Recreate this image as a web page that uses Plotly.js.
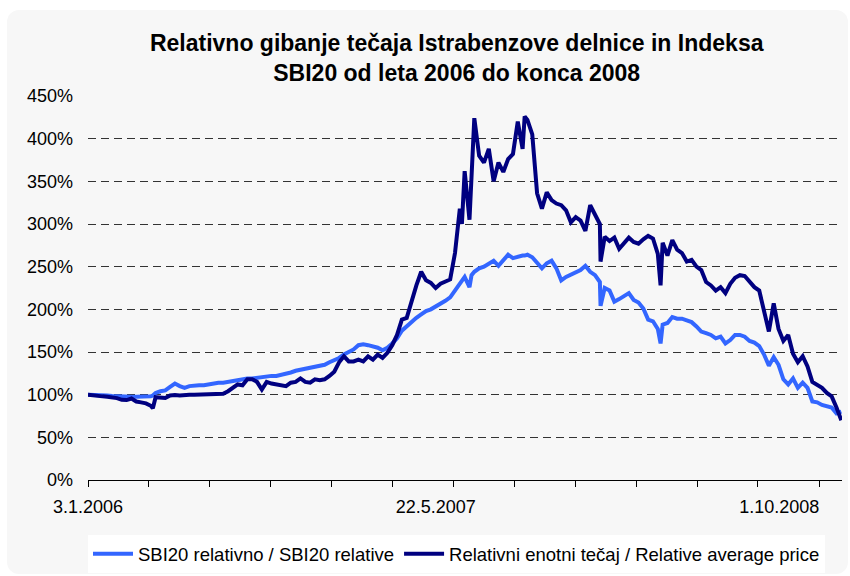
<!DOCTYPE html>
<html>
<head>
<meta charset="utf-8">
<script src="https://cdn.plot.ly/plotly-3.0.1.min.js"></script>
<style>
  html, body { margin: 0; padding: 0; background: #ffffff; }
  #panel { position: absolute; left: 7px; top: 10px; width: 841px; height: 564px; background: #f7f7f7; border-radius: 12px; }
  #chart { position: absolute; left: 0; top: 0; width: 850px; height: 576px; }
</style>
</head>
<body>
<div id="panel"></div>
<div id="chart"></div>
<script>
const dates = [
  '2006-01-03','2006-01-10','2006-01-17','2006-01-24','2006-01-31','2006-02-07','2006-02-14','2006-02-21','2006-02-28',
  '2006-03-07','2006-03-14','2006-03-21','2006-03-28','2006-04-04','2006-04-07','2006-04-11','2006-04-18','2006-04-25',
  '2006-05-02','2006-05-09','2006-05-16','2006-05-23','2006-05-30','2006-06-06','2006-06-13','2006-06-20','2006-06-27',
  '2006-07-04','2006-07-11','2006-07-18','2006-07-25','2006-08-01','2006-08-08','2006-08-15','2006-08-22','2006-08-29',
  '2006-09-05','2006-09-12','2006-09-19','2006-09-26','2006-10-03','2006-10-10','2006-10-17','2006-10-24','2006-10-31',
  '2006-11-07','2006-11-14','2006-11-21','2006-11-28','2006-12-05','2006-12-12','2006-12-19','2006-12-26',
  '2007-01-02','2007-01-09','2007-01-16','2007-01-23','2007-01-30','2007-02-06','2007-02-13','2007-02-20','2007-02-27',
  '2007-03-06','2007-03-13','2007-03-20','2007-03-27','2007-04-03','2007-04-10','2007-04-17','2007-04-24',
  '2007-05-01','2007-05-08','2007-05-15','2007-05-22','2007-05-29','2007-06-05','2007-06-12','2007-06-19','2007-06-26',
  '2007-06-29','2007-07-03','2007-07-10','2007-07-13','2007-07-17','2007-07-24','2007-07-31','2007-08-07','2007-08-14',
  '2007-08-21','2007-08-28','2007-09-04','2007-09-11','2007-09-18','2007-09-25','2007-09-28','2007-10-02','2007-10-09',
  '2007-10-16','2007-10-23','2007-10-30','2007-11-06','2007-11-13','2007-11-20','2007-11-27','2007-12-04','2007-12-11',
  '2007-12-18','2007-12-25',
  '2008-01-01','2008-01-08','2008-01-15','2008-01-16','2008-01-22','2008-01-29','2008-02-05','2008-02-12','2008-02-19',
  '2008-02-26','2008-03-04','2008-03-11','2008-03-18','2008-03-25','2008-04-01','2008-04-08','2008-04-12','2008-04-15',
  '2008-04-22','2008-04-29','2008-05-06','2008-05-13','2008-05-20','2008-05-27','2008-06-03','2008-06-10','2008-06-17',
  '2008-06-24','2008-07-01','2008-07-08','2008-07-15','2008-07-22','2008-07-29','2008-08-05','2008-08-12','2008-08-19',
  '2008-08-26','2008-09-02','2008-09-09','2008-09-16','2008-09-23','2008-09-30','2008-10-07','2008-10-14','2008-10-21',
  '2008-10-28','2008-11-04','2008-11-11','2008-11-18','2008-11-25','2008-12-02','2008-12-09','2008-12-16','2008-12-23',
  '2008-12-30'
];

const sbi20Relative = [
  100,100,99.5,99,99,98.5,98,98,97.6,
  97.6,97.6,97.6,97.6,98,99,102,104,105,
  109,113,110,108,110,111,111,111,112,
  114,114,114,115,117,118,119,119,119,
  120,120,121,122,122,123,124,126,128,
  129,130,131,132,133,135,138,140,
  143,147,150,153,158,159,158,157,155,
  152,155,160,166,175,180,186,190,
  194,198,200,203,206,210,214,222,228,
  233,238,226,240,244,248,250,253,257,
  251,258,264,260,262,263,263,264,261,
  254,248,254,257,248,234,238,241,244,
  246,251,
  244,240,232,204,225,222,209,212,216,
  219,211,208,201,188,186,177,160,182,
  184,191,189,189,187,185,180,174,172,
  170,166,168,160,164,170,170,168,163,
  161,157,147,134,144,135,118,112,119,
  108,114,108,92,91,88,86,85,78,
  80
];

const averagePriceRelative = [
  100,99,99,98,97.6,97,96,94,93.7,
  95.5,92,91,89.8,87,84,97,97,96,
  99,99.6,99,100,100,100,100,100,100.5,
  100,100,101,104,108,112,111,118,118,
  115,106,115,113,112,111,110,114,115,
  119,115,114,118,117,118,122,127,
  138,145,139,139,141,139,145,141,147,
  143,149,158,170,188,190,210,228,
  244,234,231,225,230,233,235,266,318,
  300,362,305,358,424,380,372,388,350,
  372,361,376,382,420,388,426,422,405,
  336,318,337,328,324,322,316,302,308,
  304,292,
  322,312,300,256,285,280,284,271,277,
  284,279,277,282,286,283,265,228,278,
  263,281,270,266,256,258,250,246,232,
  228,222,226,219,230,237,240,239,232,
  226,222,200,174,207,177,163,170,148,
  138,145,133,115,111,108,102,98,85,
  70
];

const seriesNames = ['SBI20 relativno / SBI20 relative', 'Relativni enotni tečaj / Relative average price'];
const labelDates = ['2006-01-03', '2007-05-22', '2008-10-01'];
const labelTexts = ['3.1.2006', '22.5.2007', '1.10.2008'];
const tickMarkDates = ['2006-01-03','2006-04-01','2006-06-28','2006-09-25','2006-12-22','2007-03-20','2007-06-17',
  '2007-09-13','2007-12-10','2008-03-08','2008-06-04','2008-08-31','2008-11-28'];

const font = 'Liberation Sans, Arial, sans-serif';

const traces = [
  { x: dates, y: sbi20Relative, name: seriesNames[0], type: 'scatter', mode: 'lines',
    line: { color: '#3366ff', width: 4 } },
  { x: dates, y: averagePriceRelative, name: seriesNames[1], type: 'scatter', mode: 'lines',
    line: { color: '#000080', width: 4 } }
];

const layout = {
  width: 850, height: 576,
  margin: { l: 88, r: 8, t: 96, b: 96 },
  paper_bgcolor: 'rgba(0,0,0,0)',
  plot_bgcolor: 'rgba(0,0,0,0)',
  font: { family: font, size: 18, color: '#000' },
  title: {
    text: '<b>Relativno gibanje tečaja Istrabenzove delnice in Indeksa<br>SBI20 od leta 2006 do konca 2008</b>',
    font: { family: font, size: 23, color: '#000' },
    xref: 'paper', x: 0.489, xanchor: 'center',
    yref: 'container', y: 0.912, yanchor: 'top'
  },
  xaxis: {
    type: 'date', automargin: false,
    range: ['2006-01-03', '2008-12-31'],
    tickmode: 'array', tickvals: labelDates, ticktext: labelTexts,
    ticks: '', showgrid: false, zeroline: false,
    showline: true, linecolor: '#000', linewidth: 1,
    ticklabelstandoff: 10,
    tickfont: { family: font, size: 18, color: '#000' },
    minor: { tickmode: 'array', tickvals: tickMarkDates, ticks: 'outside', ticklen: 6,
             tickwidth: 1, tickcolor: '#000', showgrid: false }
  },
  yaxis: {
    automargin: false,
    range: [0, 450], tickmode: 'linear', tick0: 0, dtick: 50, ticksuffix: '%',
    showline: false, zeroline: false, ticks: '',
    showgrid: true, gridcolor: '#333333', gridwidth: 1, griddash: '8px,5px',
    ticklabelstandoff: 14,
    tickfont: { family: font, size: 18, color: '#000' }
  },
  showlegend: true,
  legend: {
    orientation: 'h', xref: 'paper', x: 0, xanchor: 'left',
    yref: 'container', y: 0.071, yanchor: 'top',
    bgcolor: '#ffffff', borderwidth: 0,
    font: { family: font, size: 18.5, color: '#000' },
    itemwidth: 40, tracegroupgap: 0
  }
};

Plotly.newPlot('chart', traces, layout, { displayModeBar: false, staticPlot: true });
</script>
</body>
</html>
